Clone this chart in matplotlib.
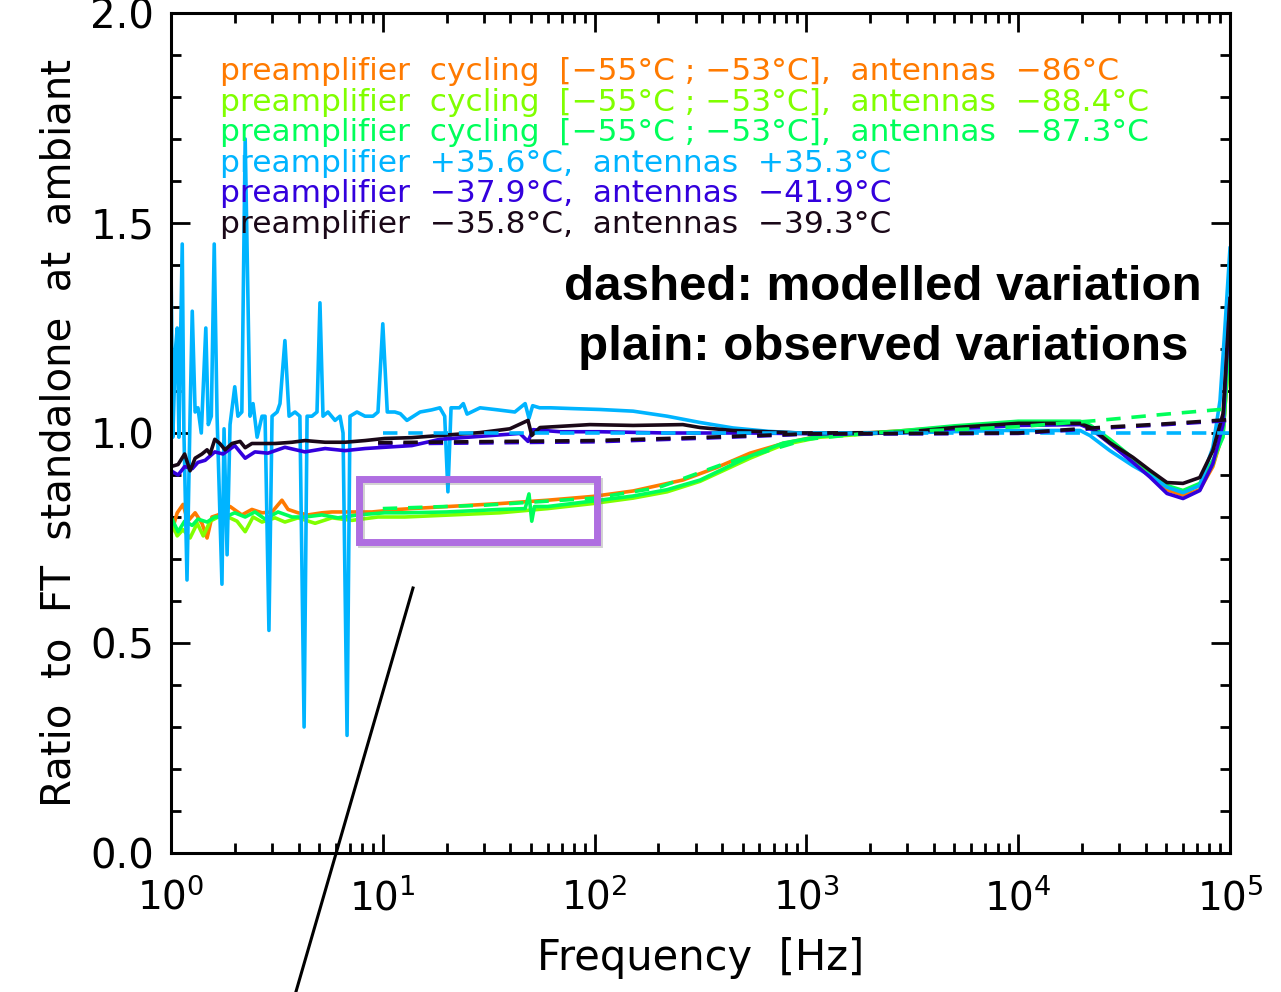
import numpy as np
import matplotlib
matplotlib.use('Agg')
import matplotlib.pyplot as plt
from matplotlib.patches import Rectangle
from matplotlib.lines import Line2D
from matplotlib.ticker import LogLocator, MultipleLocator, NullFormatter, LogFormatterMathtext

# observed ratios
cyan_f = [1.00, 1.02, 1.05, 1.07, 1.09, 1.13, 1.15, 1.19, 1.23, 1.26, 1.30, 1.34, 1.39, 1.46, 1.50,
          1.55, 1.60, 1.65, 1.74, 1.78, 1.84, 1.90, 2.00, 2.07, 2.16, 2.24, 2.36, 2.44, 2.55, 2.69,
          2.78, 2.90, 3.00, 3.17, 3.27, 3.45, 3.61, 3.85, 4.06, 4.25, 4.39, 4.63, 4.89, 5.05, 5.22,
          5.51, 5.95, 6.28, 6.49, 6.78, 7.00, 7.55, 8.24, 8.99, 9.49, 10.0, 10.5, 11.4, 12.1, 13.0,
          15.0, 17.0, 18.6, 19.6, 20.3, 21.0, 23.0, 24.0, 25.0, 28.8, 35.0, 42.0, 47.0, 49.0, 51.0,
          55.0, 62.0, 80.0, 106, 152, 220, 315, 450, 660, 933, 2770, 8200, 19600, 21800, 27100,
          34800, 41900, 50400, 60000, 72000, 83000, 89700, 94600, 1e5]
cyan_r = [1.40, 0.99, 1.20, 1.25, 0.99, 1.45, 1.01, 0.65, 1.04, 1.29, 1.05, 1.06, 1.00, 1.25, 1.02,
          1.04, 1.45, 1.04, 0.64, 1.01, 0.71, 1.02, 1.11, 1.04, 1.05, 1.70, 1.04, 1.07, 0.99, 1.04,
          1.04, 0.53, 1.04, 1.05, 1.07, 1.22, 1.04, 1.05, 1.04, 0.30, 1.04, 1.04, 1.05, 1.31, 1.04,
          1.05, 1.03, 1.04, 1.00, 0.28, 1.04, 1.05, 1.04, 1.04, 1.05, 1.26, 1.05, 1.05, 1.046, 1.03,
          1.05, 1.055, 1.06, 1.04, 0.86, 1.06, 1.06, 1.07, 1.045, 1.06, 1.055, 1.05, 1.07, 1.035, 1.065,
          1.06, 1.06, 1.058, 1.056, 1.052, 1.04, 1.025, 1.012, 1.004, 1.0, 1.0, 1.006, 1.006, 0.994, 0.958,
          0.922, 0.899, 0.871, 0.858, 0.875, 0.966, 1.077, 1.25, 1.44]

black_f = [1.00, 1.08, 1.16, 1.23, 1.30, 1.40, 1.48, 1.53, 1.61, 1.70, 1.80, 1.94, 2.12, 2.24, 2.41,
           2.69, 3.10, 3.73, 4.29, 5.34, 6.63, 8.24, 10.2, 13.7, 18.6, 28.8, 39.8, 48.5, 50.5, 55.2,
           95, 152, 261, 315, 450, 933, 2770, 5000, 1e4, 19600, 22000, 27100, 34800, 41900, 50400,
           60000, 72000, 83000, 92700, 1e5]
black_r = [0.92, 0.925, 0.95, 0.91, 0.94, 0.95, 0.96, 0.95, 0.985, 0.975, 0.96, 0.975, 0.98, 0.965, 0.975,
           0.975, 0.975, 0.978, 0.982, 0.978, 0.978, 0.982, 0.987, 0.989, 0.994, 1.001, 1.01, 1.03, 0.994, 1.013,
           1.02, 1.018, 1.02, 1.013, 1.006, 1.0, 1.001, 1.013, 1.023, 1.023, 1.013, 0.977, 0.942, 0.911, 0.882,
           0.88, 0.894, 0.958, 1.046, 1.32]

blue_f = [1.00, 1.08, 1.16, 1.26, 1.34, 1.45, 1.61, 1.76, 2.00, 2.24, 2.49, 2.87, 3.45, 4.29, 5.34,
          6.63, 8.24, 10.2, 13.7, 18.6, 28.8, 44.4, 48.5, 51.2, 68.7, 106, 220, 542, 1160, 2770,
          5000, 1e4, 19600, 22000, 27100, 34800, 41900, 50400, 60000, 72000, 83000, 92700, 1e5]
blue_r = [0.91, 0.90, 0.92, 0.915, 0.93, 0.935, 0.955, 0.95, 0.97, 0.94, 0.955, 0.952, 0.966, 0.955, 0.963,
          0.958, 0.963, 0.966, 0.97, 0.985, 0.992, 0.999, 0.98, 1.008, 1.003, 1.003, 1.0, 1.0, 0.998, 1.0,
          1.01, 1.018, 1.02, 1.01, 0.975, 0.930, 0.895, 0.856, 0.844, 0.863, 0.927, 1.02, 1.32]

orange_f = [1.00, 1.07, 1.14, 1.20, 1.30, 1.40, 1.48, 1.56, 1.67, 1.90, 2.16, 2.41, 2.69, 3.00, 3.34,
            3.57, 3.98, 4.44, 5.16, 5.75, 6.63, 7.64, 8.89, 11.8, 13.7, 35.7, 60, 98, 152, 261,
            378, 542, 776, 1160, 2770, 5000, 1e4, 19600, 22000, 27100, 34800, 41900, 50400, 60000, 72000,
            83000, 92700, 1e5]
orange_r = [0.76, 0.81, 0.83, 0.79, 0.81, 0.785, 0.75, 0.80, 0.805, 0.825, 0.805, 0.818, 0.81, 0.812, 0.84,
            0.818, 0.81, 0.805, 0.81, 0.812, 0.812, 0.812, 0.812, 0.818, 0.82, 0.832, 0.84, 0.849, 0.862, 0.888,
            0.918, 0.952, 0.975, 0.993, 1.005, 1.015, 1.025, 1.025, 1.012, 0.975, 0.935, 0.90, 0.865, 0.852, 0.865,
            0.92, 1.0, 1.22]

lime_f = [1.00, 1.07, 1.14, 1.23, 1.33, 1.42, 1.53, 1.67, 1.86, 2.05, 2.24, 2.44, 2.69, 3.10, 3.45,
          3.98, 4.79, 5.75, 7.15, 9.49, 12.7, 35.7, 60, 98, 152, 220, 315, 542, 776, 1160,
          2770, 5000, 1e4, 19600, 22000, 27100, 34800, 41900, 50400, 60000, 72000, 83000, 92700, 1e5]
lime_r = [0.79, 0.755, 0.77, 0.75, 0.785, 0.755, 0.79, 0.80, 0.80, 0.79, 0.765, 0.80, 0.788, 0.798, 0.788,
          0.798, 0.785, 0.798, 0.792, 0.80, 0.80, 0.81, 0.82, 0.832, 0.845, 0.86, 0.885, 0.94, 0.972, 0.99,
          1.003, 1.013, 1.022, 1.022, 1.012, 0.978, 0.937, 0.905, 0.872, 0.862, 0.875, 0.925, 1.0, 1.22]

green_f = [1.00, 1.08, 1.16, 1.26, 1.34, 1.48, 1.61, 1.80, 2.00, 2.24, 2.49, 2.78, 3.20, 3.73, 4.29,
           5.16, 6.14, 7.64, 10.2, 12.7, 20.0, 35.7, 47.0, 49.0, 50.5, 52.0, 60, 98, 152, 220,
           315, 542, 776, 1160, 2770, 5000, 1e4, 19600, 22000, 27100, 34800, 41900, 50400, 60000, 72000,
           83000, 92700, 1e5]
green_r = [0.80, 0.765, 0.79, 0.78, 0.795, 0.788, 0.80, 0.80, 0.81, 0.80, 0.812, 0.795, 0.812, 0.80, 0.80,
           0.805, 0.798, 0.805, 0.81, 0.81, 0.812, 0.818, 0.82, 0.855, 0.79, 0.825, 0.825, 0.838, 0.85, 0.865,
           0.888, 0.945, 0.976, 0.992, 1.005, 1.017, 1.028, 1.028, 1.018, 0.985, 0.94, 0.908, 0.875, 0.863, 0.88,
           0.935, 0.99, 1.25]

# modelled ratios (dashed)
cyan_mod_f = [10.0, 1e5]
cyan_mod_r = [1.0, 1.0]
black_mod_f = [9.5, 100, 300, 1000, 1e4, 24000, 50000, 1e5]
black_mod_r = [0.977, 0.982, 0.989, 0.998, 1.0, 1.013, 1.022, 1.032]
blue_mod_f = [9.5, 100, 300, 1000, 1e4, 24000, 50000, 1e5]
blue_mod_r = [0.974, 0.979, 0.987, 0.997, 0.999, 1.011, 1.020, 1.030]
green_mod_f = [10, 30, 100, 200, 400, 1000, 2000, 5000, 1e4, 24000, 50000, 1e5]
green_mod_r = [0.82, 0.828, 0.845, 0.87, 0.925, 0.985, 1.0, 1.008, 1.015, 1.03, 1.045, 1.058]

legend_lines = ['preamplifier  cycling  [\u221255\u00b0C ; \u221253\u00b0C],  antennas  \u221286\u00b0C',
                'preamplifier  cycling  [\u221255\u00b0C ; \u221253\u00b0C],  antennas  \u221288.4\u00b0C',
                'preamplifier  cycling  [\u221255\u00b0C ; \u221253\u00b0C],  antennas  \u221287.3\u00b0C',
                'preamplifier  +35.6\u00b0C,  antennas  +35.3\u00b0C',
                'preamplifier  \u221237.9\u00b0C,  antennas  \u221241.9\u00b0C',
                'preamplifier  \u221235.8\u00b0C,  antennas  \u221239.3\u00b0C']

c_orange = '#ff7a00'
c_lime = '#80ff00'
c_green = '#00ff5a'
c_cyan = '#00b4ff'
c_blue = '#3300dd'
c_black = '#1a0818'
legend_colors = [c_orange, c_lime, c_green, c_cyan, c_blue, c_black]

#%% figure
plt.rcParams['font.family'] = ['DejaVu Sans']
fig = plt.figure(figsize=(12.81, 9.92), dpi=100)
ax = fig.add_axes([171/1281, 1 - 853/992, (1230 - 171)/1281, (853 - 13)/992])

lw = 2.6
ax.plot(orange_f, orange_r, color=c_orange, lw=lw)
ax.plot(lime_f, lime_r, color=c_lime, lw=lw)
ax.plot(green_f, green_r, color=c_green, lw=lw)
ax.plot(cyan_f, cyan_r, color=c_cyan, lw=lw)
ax.plot(blue_f, blue_r, color=c_blue, lw=lw)
ax.plot(black_f, black_r, color=c_black, lw=lw)

dash = (0, (4, 3))
ax.plot(green_mod_f, green_mod_r, color=c_green, lw=lw, ls=dash)
ax.plot(cyan_mod_f, cyan_mod_r, color=c_cyan, lw=lw, ls=dash)
ax.plot(blue_mod_f, blue_mod_r, color=c_blue, lw=lw, ls=dash)
ax.plot(black_mod_f, black_mod_r, color=c_black, lw=lw, ls=dash)

ax.set_xscale('log')
ax.set_xlim(1, 1e5)
ax.set_ylim(0, 2.0)
ax.yaxis.set_major_locator(MultipleLocator(0.5))
ax.yaxis.set_minor_locator(MultipleLocator(0.1))
ax.yaxis.set_major_formatter(plt.FormatStrFormatter('%.1f'))
ax.xaxis.set_major_locator(LogLocator(base=10, numticks=10))
ax.xaxis.set_major_formatter(LogFormatterMathtext())
ax.xaxis.set_minor_locator(LogLocator(base=10, subs=np.arange(2, 10), numticks=20))
ax.xaxis.set_minor_formatter(NullFormatter())
ax.tick_params(which='both', direction='in', top=True, right=True, width=2)
ax.tick_params(which='major', length=14)
ax.tick_params(which='minor', length=7)
ax.tick_params(axis='x', pad=18, labelsize=28)
ax.tick_params(axis='y', pad=12, labelsize=29)
for s in ax.spines.values():
    s.set_linewidth(2.2)

ax.set_xlabel('Frequency  [Hz]', fontsize=30, labelpad=14)
ax.set_ylabel('Ratio  to  FT  standalone  at  ambiant', fontsize=29, labelpad=8)

# legend text
for i, (txt, col) in enumerate(zip(legend_lines, legend_colors)):
    fig.text(220/1281, 1 - (80 + 30.6*i)/992, txt, color=col, fontsize=22.5, va='baseline', ha='left')

fig.text(883/1281, 1 - 287/992, 'dashed: modelled variation', fontsize=35.5, fontweight='bold',
         family='Liberation Sans', ha='center', va='center')
fig.text(883/1281, 1 - 347/992, 'plain: observed variations', fontsize=35.5, fontweight='bold',
         family='Liberation Sans', ha='center', va='center')

# highlight box (with a soft shadow) and pointer line
shadow = Rectangle((7.9, 0.735), 104.5 - 7.9, 0.886 - 0.735, fill=False, edgecolor='gray', lw=5,
                   alpha=0.35, clip_on=False, zorder=4)
ax.add_patch(shadow)
box = Rectangle((7.68, 0.741), 102.6 - 7.68, 0.891 - 0.741, fill=False, edgecolor='#af6ee1', lw=5,
                clip_on=False, zorder=5)
ax.add_patch(box)
fig.add_artist(Line2D([413/1281, 295/1281], [1 - 588/992, 1 - 995/992], color='black', lw=2.2))

fig.savefig('out.png', dpi=100)
